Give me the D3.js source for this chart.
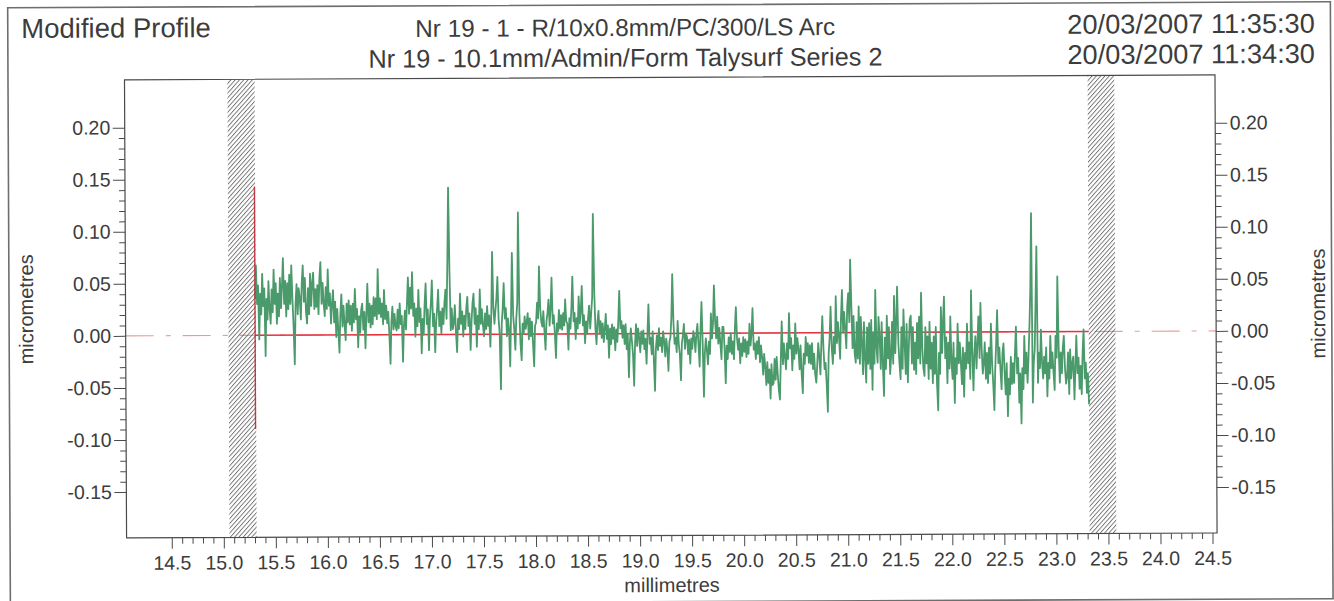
<!DOCTYPE html>
<html>
<head>
<meta charset="utf-8">
<script src="https://cdn.jsdelivr.net/npm/d3@7"></script>
<style>
  body { margin: 0; background: #fff; }
  svg { display: block; }
  text { font-family: "Liberation Sans", Arial, sans-serif; fill: #3c3c3c; }
</style>
</head>
<body>
<svg id="chart" width="1334" height="601"></svg>
<script>
// ---- header text ----
const titleText = "Modified Profile";
const headerLines = ["Nr 19 - 1 - R/10x0.8mm/PC/300/LS Arc", "Nr 19 - 10.1mm/Admin/Form Talysurf Series 2"];
const dateLines = ["20/03/2007 11:35:30", "20/03/2007 11:34:30"];
const xAxisTitle = "millimetres";
const yAxisTitle = "micrometres";

// ---- axes ----
const xDomain = [14.066, 24.544];
const yDomain = [-0.1941, 0.2459];
const xMajorTicks = [14.5, 15.0, 15.5, 16.0, 16.5, 17.0, 17.5, 18.0, 18.5, 19.0, 19.5,
                     20.0, 20.5, 21.0, 21.5, 22.0, 22.5, 23.0, 23.5, 24.0, 24.5];
const yMajorTicks = [-0.15, -0.10, -0.05, 0.00, 0.05, 0.10, 0.15, 0.20];

// ---- excluded end zones (mm) and the start marker ----
const excludedZones = [[15.055, 15.316], [23.320, 23.576]];
const startMarker = { mm: 15.31, low: -0.090, high: 0.143 };
const referenceSpan = [15.31, 23.32];

// ---- profile: heights in micrometres, one sample every 0.01 mm from 15.31 mm ----
const profileStartMm = 15.31;
const profileStepMm = 0.01;
const profileHeights = [
  // 15.31
  0.035, 0.067, 0.030, 0.048, -0.004, 0.040, 0.020, 0.059, 0.028, 0.045,
  -0.020, 0.035, 0.015, 0.052, 0.025, 0.011, 0.044, 0.022, 0.063, 0.030,
  0.050, 0.011, 0.040, 0.018, 0.055, 0.026, 0.048, 0.074, 0.030, 0.052,
  // 15.61
  0.018, 0.050, 0.025, 0.058, 0.030, 0.067, 0.035, 0.008, -0.028, 0.030,
  0.049, 0.020, 0.045, 0.036, 0.015, 0.050, 0.067, 0.032, 0.055, 0.022,
  0.011, 0.045, 0.020, 0.059, 0.028, 0.050, 0.060, 0.025, 0.044, 0.027,
  // 15.91
  0.048, 0.020, 0.055, 0.070, 0.030, 0.050, 0.030, 0.018, 0.046, 0.025,
  0.063, 0.028, 0.040, 0.011, 0.030, 0.043, 0.012, 0.032, -0.002, 0.025,
  0.005, -0.017, 0.020, 0.039, 0.008, 0.028, 0.010, -0.005, 0.030, 0.012,
  // 16.21
  0.033, 0.010, 0.028, 0.004, 0.030, 0.012, 0.044, 0.015, 0.025, -0.012,
  0.018, 0.002, 0.024, 0.030, 0.005, 0.022, -0.013, 0.020, 0.049, 0.012,
  0.030, 0.007, 0.028, 0.010, 0.036, 0.018, 0.035, 0.015, 0.063, 0.020,
  // 16.51
  0.035, 0.017, 0.030, 0.010, 0.043, 0.015, 0.028, 0.011, 0.022, 0.000,
  -0.028, 0.012, 0.027, 0.005, 0.020, 0.008, 0.004, 0.024, 0.006, 0.030,
  0.010, 0.018, -0.026, 0.008, 0.023, 0.005, 0.030, 0.055, 0.020, 0.045,
  // 16.81
  0.025, 0.060, 0.018, 0.030, -0.002, 0.025, 0.008, 0.043, 0.012, 0.025,
  -0.018, 0.015, 0.000, 0.030, 0.049, 0.010, 0.024, -0.015, 0.015, 0.030,
  0.052, 0.008, 0.020, -0.017, 0.012, 0.025, 0.043, 0.008, 0.022, 0.001,
  // 17.11
  0.025, 0.010, 0.030, 0.043, 0.015, 0.070, 0.141, 0.060, 0.004, 0.025,
  0.005, 0.011, 0.028, 0.002, -0.017, 0.015, 0.005, 0.039, 0.010, 0.022,
  -0.002, 0.018, 0.005, 0.025, 0.036, 0.008, 0.020, -0.015, 0.012, 0.030,
  // 17.41
  0.039, 0.010, 0.025, -0.012, 0.018, 0.005, 0.043, 0.010, 0.024, 0.008,
  -0.002, 0.020, 0.005, 0.027, 0.008, 0.018, -0.012, 0.020, 0.079, 0.025,
  0.010, 0.023, 0.035, 0.055, 0.015, 0.000, -0.053, 0.010, 0.025, 0.049,
  // 17.71
  0.015, 0.025, -0.002, 0.015, 0.005, -0.031, 0.020, 0.078, 0.018, 0.005,
  -0.015, 0.015, 0.030, 0.117, 0.020, -0.010, -0.025, 0.010, 0.000, 0.017,
  0.005, 0.012, 0.020, -0.005, 0.015, -0.002, 0.012, -0.010, -0.031, 0.008,
  // 18.01
  0.011, 0.030, 0.015, 0.065, 0.025, 0.012, 0.007, 0.022, 0.003, -0.015,
  0.012, 0.020, 0.033, 0.008, 0.025, 0.054, 0.010, 0.018, 0.000, -0.023,
  0.010, 0.002, 0.023, 0.005, 0.018, 0.004, 0.020, 0.008, 0.033, 0.012,
  // 18.31
  0.010, -0.015, 0.015, 0.005, 0.025, 0.055, 0.012, 0.020, -0.005, 0.015,
  0.005, 0.036, 0.010, 0.022, 0.046, 0.008, 0.018, -0.009, 0.012, 0.000,
  0.015, 0.027, 0.005, 0.020, 0.035, 0.115, 0.040, 0.005, -0.010, 0.012,
  // 18.61
  0.022, 0.000, 0.012, -0.004, 0.010, -0.008, 0.005, 0.019, -0.005, 0.008,
  -0.023, 0.005, -0.010, 0.009, -0.005, 0.006, -0.016, 0.004, -0.008, 0.012,
  0.041, 0.005, 0.012, -0.004, 0.008, -0.010, 0.009, -0.015, 0.000, -0.042,
  // 18.91
  -0.010, 0.005, -0.007, -0.020, -0.050, -0.010, 0.009, -0.012, 0.005, -0.004,
  -0.018, 0.002, -0.010, 0.003, -0.015, -0.005, -0.029, 0.000, 0.028, -0.010,
  -0.004, -0.020, 0.002, -0.025, -0.055, -0.015, -0.002, -0.016, 0.005, -0.012,
  // 19.21
  -0.004, -0.018, 0.002, -0.007, -0.022, -0.005, -0.015, -0.036, -0.008, -0.004,
  0.015, 0.057, 0.010, -0.010, -0.004, -0.018, 0.012, -0.010, -0.020, -0.045,
  -0.010, -0.002, 0.009, -0.015, 0.000, -0.004, -0.020, -0.006, -0.029, -0.005,
  // 19.51
  -0.015, 0.002, -0.004, -0.018, 0.000, 0.009, -0.012, -0.032, 0.005, 0.030,
  -0.010, -0.061, -0.020, -0.005, -0.016, -0.030, -0.008, -0.020, 0.019, -0.005,
  0.010, 0.046, 0.012, -0.005, 0.016, -0.010, 0.005, -0.010, -0.025, 0.006,
  // 19.81
  0.006, -0.015, -0.048, -0.012, -0.025, -0.004, -0.018, 0.000, -0.020, -0.008,
  -0.025, 0.005, 0.025, -0.005, -0.016, -0.005, -0.029, -0.010, -0.022, -0.004,
  -0.018, -0.006, -0.023, -0.008, -0.020, 0.009, -0.012, 0.000, 0.024, -0.016,
  // 20.11
  -0.010, -0.025, -0.008, -0.020, -0.004, -0.028, -0.012, -0.023, -0.040, -0.020,
  -0.032, -0.050, -0.028, -0.048, -0.035, -0.063, -0.030, -0.050, -0.048, -0.025,
  -0.045, -0.023, -0.040, -0.055, -0.064, -0.025, 0.011, -0.030, -0.010, -0.023,
  // 20.41
  -0.035, -0.010, -0.025, 0.019, -0.015, -0.005, -0.036, -0.012, -0.025, 0.009,
  -0.020, -0.005, -0.016, -0.035, -0.012, -0.040, -0.058, -0.020, -0.030, -0.004,
  -0.022, -0.010, -0.029, -0.012, -0.030, -0.010, -0.035, -0.020, -0.040, -0.048,
  // 20.71
  -0.030, -0.010, -0.023, -0.040, -0.010, 0.016, -0.015, -0.035, -0.029, -0.050,
  -0.076, -0.020, -0.005, 0.025, -0.015, -0.030, -0.004, -0.020, 0.035, -0.010,
  0.010, -0.004, -0.025, 0.015, 0.041, 0.000, 0.020, 0.003, -0.015, 0.025,
  // 21.01
  0.038, 0.010, 0.070, 0.025, -0.015, 0.016, -0.020, -0.029, 0.010, -0.025,
  0.025, -0.030, 0.015, -0.010, -0.040, 0.010, -0.025, -0.048, 0.005, -0.030,
  0.009, -0.035, 0.012, -0.055, 0.000, -0.030, 0.041, -0.015, -0.029, 0.015,
  // 21.31
  -0.004, -0.035, 0.010, -0.030, -0.061, -0.005, -0.035, 0.016, -0.025, 0.005,
  -0.040, -0.023, 0.010, -0.030, 0.035, -0.020, 0.010, 0.044, -0.010, -0.030,
  -0.045, 0.005, -0.035, 0.022, -0.010, -0.040, 0.008, -0.048, -0.015, 0.012,
  // 21.61
  0.016, -0.030, 0.005, -0.036, -0.010, -0.040, 0.009, -0.025, 0.015, -0.030,
  0.038, -0.015, -0.035, -0.042, 0.005, -0.030, -0.004, -0.045, 0.010, -0.035,
  -0.010, -0.049, -0.004, -0.040, 0.005, -0.050, -0.075, -0.020, -0.040, 0.024,
  // 21.91
  -0.020, 0.010, 0.034, -0.025, -0.005, -0.049, -0.010, -0.035, 0.015, -0.030,
  -0.045, -0.010, -0.068, -0.025, -0.040, 0.008, -0.030, -0.010, -0.030, -0.050,
  -0.015, -0.062, -0.020, -0.035, 0.008, -0.030, -0.010, -0.045, 0.040, -0.020,
  // 22.21
  -0.056, -0.020, -0.004, -0.035, -0.010, 0.015, -0.025, 0.028, -0.015, -0.040,
  -0.030, -0.010, -0.045, -0.020, -0.049, -0.015, -0.040, 0.008, -0.030, -0.050,
  -0.075, -0.035, -0.010, 0.021, -0.030, -0.015, -0.036, -0.055, -0.020, -0.011,
  // 22.51
  -0.040, -0.060, -0.030, -0.081, -0.045, -0.060, -0.024, -0.050, -0.030, -0.049,
  -0.020, 0.005, -0.040, -0.025, -0.068, -0.040, -0.088, -0.035, -0.055, -0.004,
  -0.040, -0.020, -0.049, -0.025, 0.005, 0.040, 0.114, -0.068, -0.030, -0.017,
  // 22.81
  0.030, 0.082, -0.049, -0.020, -0.035, 0.002, -0.030, -0.045, -0.024, -0.040,
  -0.015, -0.062, -0.030, -0.045, -0.004, -0.035, -0.020, -0.040, -0.056, -0.004,
  -0.025, 0.053, -0.015, -0.049, -0.020, -0.040, -0.015, -0.004, -0.035, -0.050,
  // 23.11
  -0.043, -0.020, -0.060, -0.017, -0.045, -0.030, -0.024, -0.065, -0.035, -0.004,
  -0.040, -0.025, -0.055, -0.033, -0.060, -0.020, 0.002, -0.045, -0.030, -0.059,
  -0.040, -0.070
];

// ---- layout ----
const plot = { left: 125.5, right: 1216, top: 77.4, bottom: 535.5 };
const svg = d3.select("#chart");
const root = svg.append("g").attr("transform", "rotate(-0.26 667 300)");

const x = d3.scaleLinear().domain(xDomain).range([plot.left, plot.right]);
const y = d3.scaleLinear().domain(yDomain).range([plot.bottom, plot.top]);

// hatch pattern for excluded zones
const defs = svg.append("defs");
defs.append("pattern")
  .attr("id", "hatch")
  .attr("patternUnits", "userSpaceOnUse")
  .attr("width", 3.2).attr("height", 10)
  .attr("patternTransform", "rotate(42)")
  .append("line")
  .attr("x1", 0.5).attr("y1", 0).attr("x2", 0.5).attr("y2", 10)
  .attr("stroke", "#4a4a4a").attr("stroke-width", 0.8);

// outer page frame
root.append("rect")
  .attr("x", 9).attr("y", 4.8).attr("width", 1322.7).attr("height", 596.9)
  .attr("fill", "none").attr("stroke", "#6e6e6e").attr("stroke-width", 1.6);

// header
root.append("text").attr("x", 22.5).attr("y", 35).attr("font-size", 27.5).text(titleText);
root.selectAll(".hdr").data(headerLines).join("text")
  .attr("class", "hdr")
  .attr("x", 626.5).attr("y", (d, i) => 35.8 + i * 30.5)
  .attr("text-anchor", "middle").attr("font-size", (d, i) => i === 0 ? 24.3 : 25.3).text(d => d);
root.selectAll(".date").data(dateLines).join("text")
  .attr("class", "date")
  .attr("x", 1316).attr("y", (d, i) => 35.6 + i * 30.2)
  .attr("text-anchor", "end").attr("font-size", 27.2).text(d => d);

// zero reference: dash-dot across the plot, solid over the evaluated span
root.append("line")
  .attr("x1", plot.left).attr("x2", plot.right)
  .attr("y1", y(0)).attr("y2", y(0))
  .attr("stroke", "#ec9a9a").attr("stroke-width", 1.1)
  .attr("stroke-dasharray", "28,12,5,12");
root.append("line")
  .attr("x1", x(referenceSpan[0])).attr("x2", x(referenceSpan[1]))
  .attr("y1", y(0)).attr("y2", y(0))
  .attr("stroke", "#e5323f").attr("stroke-width", 1.5);

// profile trace
const profile = profileHeights.map((h, i) => [profileStartMm + i * profileStepMm, h]);
root.append("path")
  .datum(profile)
  .attr("fill", "none")
  .attr("stroke", "#4b9a6b")
  .attr("stroke-width", 1.8)
  .attr("stroke-linejoin", "round")
  .attr("d", d3.line().x(d => x(d[0])).y(d => y(d[1])));

// start marker
root.append("line")
  .attr("x1", x(startMarker.mm)).attr("x2", x(startMarker.mm))
  .attr("y1", y(startMarker.high)).attr("y2", y(startMarker.low))
  .attr("stroke", "#e5323f").attr("stroke-width", 1.4);

// excluded zones
root.selectAll(".zone").data(excludedZones).join("rect")
  .attr("class", "zone")
  .attr("x", d => x(d[0])).attr("width", d => x(d[1]) - x(d[0]))
  .attr("y", plot.top).attr("height", plot.bottom - plot.top)
  .attr("fill", "url(#hatch)");

// plot frame
root.append("rect")
  .attr("x", plot.left).attr("y", plot.top)
  .attr("width", plot.right - plot.left).attr("height", plot.bottom - plot.top)
  .attr("fill", "none").attr("stroke", "#4a4a4a").attr("stroke-width", 1.2);

// axes
const fmt = d => d.toFixed(2);
const fmtX = d => d.toFixed(1);
const yMinor = d3.range(-15, 21).filter(v => v % 5 !== 0).map(v => v / 100);
const xMinor = d3.range(145, 246).filter(v => v % 5 !== 0).map(v => v / 10);

function styleAxis(g) {
  g.select(".domain").remove();
  g.selectAll("line").attr("stroke", "#4a4a4a").attr("stroke-width", 1);
  g.selectAll("text").attr("font-size", 19.5).attr("fill", "#3c3c3c")
    .attr("font-family", "'Liberation Sans', Arial, sans-serif");
}

root.append("g").attr("transform", `translate(${plot.left},0)`)
  .call(d3.axisLeft(y).tickValues(yMajorTicks).tickSize(12).tickPadding(2.5).tickFormat(fmt))
  .call(styleAxis);
root.append("g").attr("transform", `translate(${plot.left},0)`)
  .call(d3.axisLeft(y).tickValues(yMinor).tickSize(6).tickFormat(""))
  .call(styleAxis);
root.append("g").attr("transform", `translate(${plot.right},0)`)
  .call(d3.axisRight(y).tickValues(yMajorTicks).tickSize(12).tickPadding(2.5).tickFormat(fmt))
  .call(styleAxis);
root.append("g").attr("transform", `translate(${plot.right},0)`)
  .call(d3.axisRight(y).tickValues(yMinor).tickSize(6).tickFormat(""))
  .call(styleAxis);
root.append("g").attr("transform", `translate(0,${plot.bottom})`)
  .call(d3.axisBottom(x).tickValues(xMajorTicks).tickSize(11).tickPadding(7).tickFormat(fmtX))
  .call(styleAxis);
root.append("g").attr("transform", `translate(0,${plot.bottom})`)
  .call(d3.axisBottom(x).tickValues(xMinor).tickSize(6).tickFormat(""))
  .call(styleAxis);

// axis titles
const midY = (plot.top + plot.bottom) / 2;
root.append("text").attr("x", (plot.left + plot.right) / 2).attr("y", 592)
  .attr("text-anchor", "middle").attr("font-size", 20).text(xAxisTitle);
root.append("text").attr("transform", `translate(33,${midY}) rotate(-90)`)
  .attr("text-anchor", "middle").attr("font-size", 20).text(yAxisTitle);
root.append("text").attr("transform", `translate(1325,${midY}) rotate(-90)`)
  .attr("text-anchor", "middle").attr("font-size", 20).text(yAxisTitle);
</script>
</body>
</html>
